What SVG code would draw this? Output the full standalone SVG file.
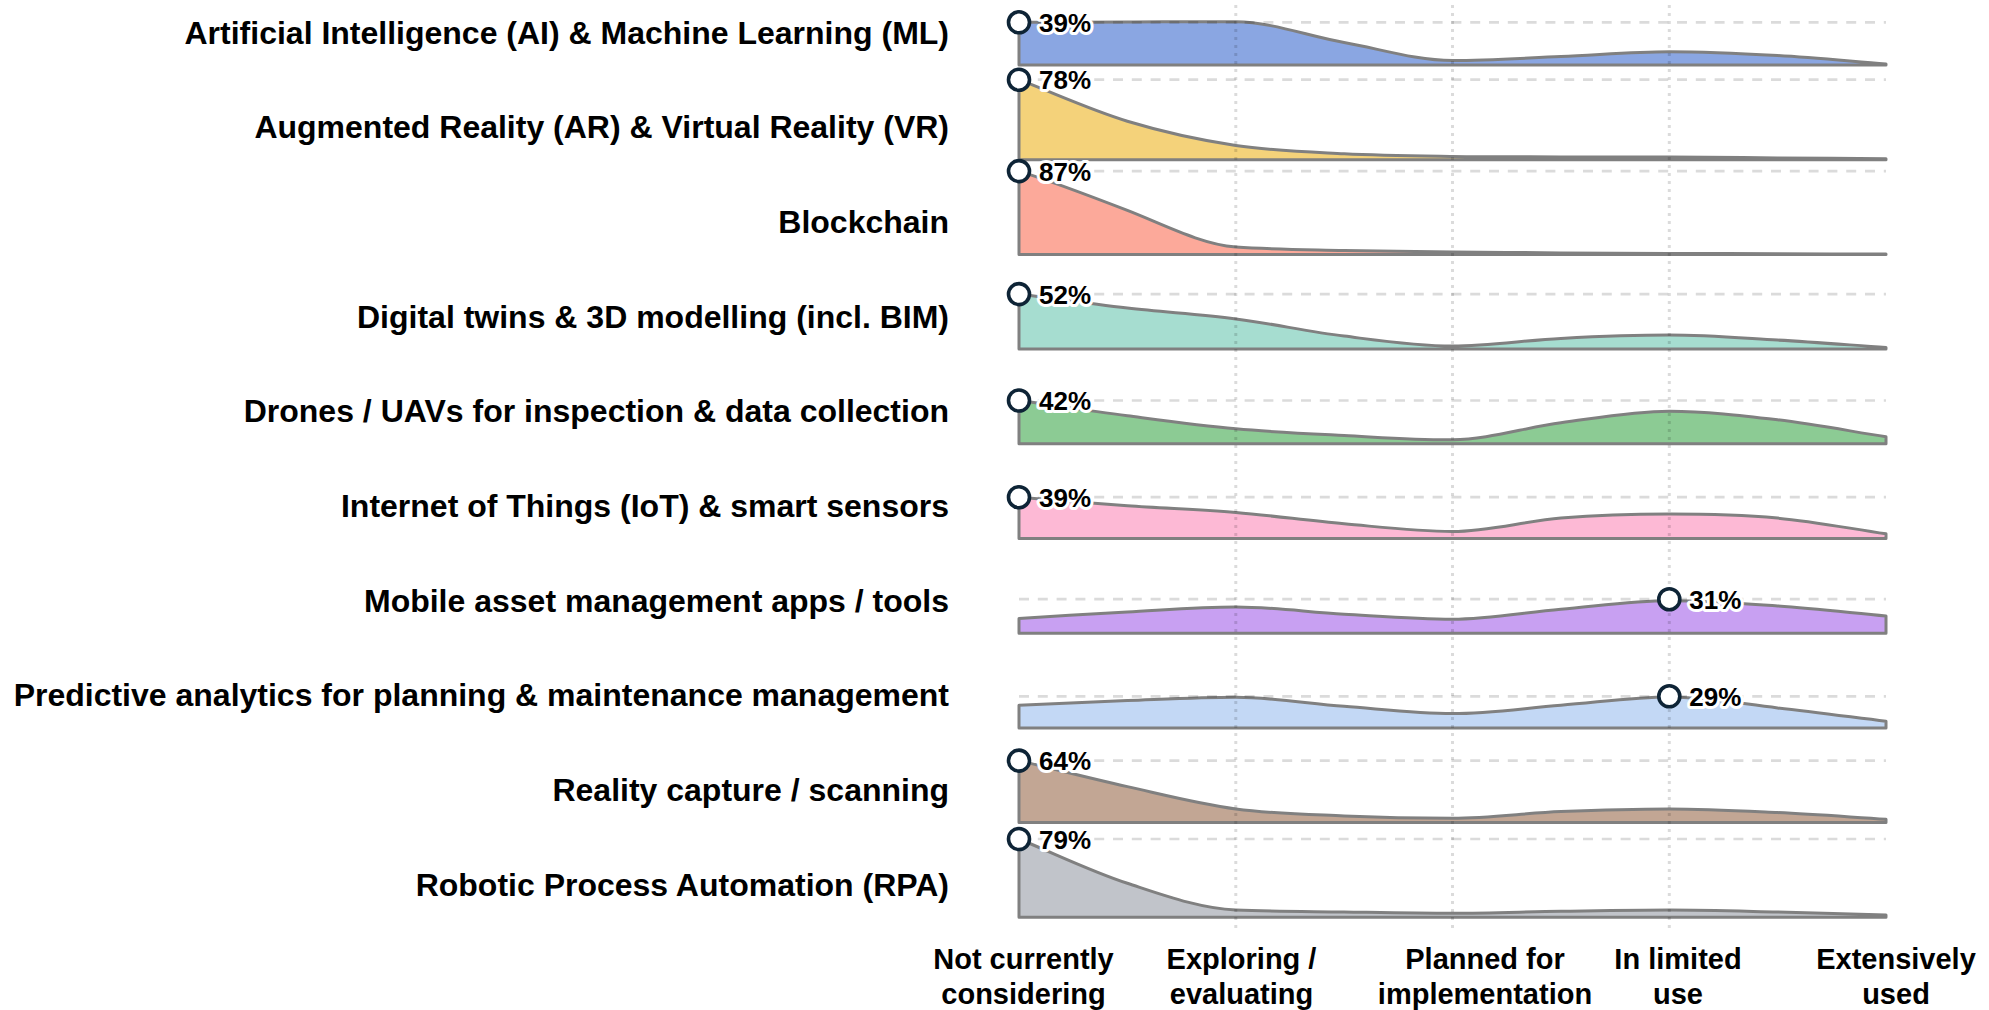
<svg xmlns="http://www.w3.org/2000/svg" width="1989" height="1010" viewBox="0 0 1989 1010">
<style>
text{font-family:"Liberation Sans",Arial,Helvetica,sans-serif;font-weight:700;fill:#000}
.lbl{font-size:32px;text-anchor:end}
.ax{font-size:29px;text-anchor:middle}
.pct{font-size:26px;stroke:#fff;stroke-width:6;stroke-linejoin:round;paint-order:stroke fill}
.ridge{stroke:#808080;stroke-width:3;stroke-linejoin:round}
.vgrid{stroke:#000;stroke-opacity:0.14;stroke-width:3;stroke-dasharray:3 5}
.hgrid{stroke:#000;stroke-opacity:0.14;stroke-width:2.7;stroke-dasharray:10 8.8}
.dot{fill:#fff;stroke:#0e2436;stroke-width:3.6}
</style>
<rect width="1989" height="1010" fill="#fff"/>

<g id="row-ai">
<text class="lbl" x="949" y="43.5">Artificial Intelligence (AI) &amp; Machine Learning (ML)</text>
<path class="ridge" fill="#8aa6e2" transform="translate(0,65)" d="M1019,0 L1019,-42.7 C1055.1,-42.8 1091.3,-42.92 1127.4,-43 C1163.5,-43.08 1199.7,-43.5 1235.8,-43.2 C1271.9,-42.9 1308,-28.95 1344.1,-22.5 C1380.2,-16.05 1416.4,-4.5 1452.5,-4.5 C1488.6,-4.5 1524.8,-7.03 1560.9,-8.5 C1597,-9.97 1633.2,-13.3 1669.3,-13.3 C1705.4,-13.3 1741.5,-11.55 1777.6,-9.5 C1813.7,-7.45 1849.9,-3.83 1886,-1 L1886,0 Z"/>
</g>
<g id="row-arvr">
<text class="lbl" x="949" y="138.2">Augmented Reality (AR) &amp; Virtual Reality (VR)</text>
<path class="ridge" fill="#f4d27a" transform="translate(0,159.7)" d="M1019,0 L1019,-80 C1055.1,-66.17 1091.3,-49.45 1127.4,-38.5 C1163.5,-27.55 1199.7,-19.72 1235.8,-14.3 C1271.9,-8.88 1308,-7.83 1344.1,-6 C1380.2,-4.17 1416.4,-3.83 1452.5,-3.3 C1488.6,-2.77 1524.8,-2.92 1560.9,-2.8 C1597,-2.68 1633.2,-2.77 1669.3,-2.6 C1705.4,-2.43 1741.5,-2.07 1777.6,-1.8 C1813.7,-1.53 1849.9,-1.27 1886,-1 L1886,0 Z"/>
</g>
<g id="row-blockchain">
<text class="lbl" x="949" y="232.9">Blockchain</text>
<path class="ridge" fill="#fca99a" transform="translate(0,254.4)" d="M1019,0 L1019,-83.3 C1055.1,-72 1091.3,-58 1127.4,-44 C1163.5,-30 1199.7,-10.5 1235.8,-7.3 C1271.9,-4.8 1308,-4.8 1344.1,-4 C1380.2,-3.2 1416.4,-2.92 1452.5,-2.5 C1488.6,-2.08 1524.8,-1.75 1560.9,-1.5 C1597,-1.25 1633.2,-1.13 1669.3,-1 C1705.4,-0.87 1741.5,-0.82 1777.6,-0.7 C1813.7,-0.58 1849.9,-0.43 1886,-0.3 L1886,0 Z"/>
</g>
<g id="row-digital-twins">
<text class="lbl" x="949" y="327.6">Digital twins &amp; 3D modelling (incl. BIM)</text>
<path class="ridge" fill="#a6ddd0" transform="translate(0,349.1)" d="M1019,0 L1019,-55 C1055.1,-50.33 1091.3,-45.13 1127.4,-41 C1163.5,-36.87 1199.7,-34.87 1235.8,-30.2 C1271.9,-25.53 1308,-17.53 1344.1,-13 C1380.2,-8.47 1416.4,-3 1452.5,-3 C1488.6,-3 1524.8,-8.87 1560.9,-10.7 C1597,-12.53 1633.2,-14 1669.3,-14 C1705.4,-14 1741.5,-11.05 1777.6,-9 C1813.7,-6.95 1849.9,-4.13 1886,-1.7 L1886,0 Z"/>
</g>
<g id="row-drones">
<text class="lbl" x="949" y="422.3">Drones / UAVs for inspection &amp; data collection</text>
<path class="ridge" fill="#8ccb94" transform="translate(0,443.8)" d="M1019,0 L1019,-43.3 C1055.1,-38.2 1091.3,-32.72 1127.4,-28 C1163.5,-23.28 1199.7,-18.28 1235.8,-15 C1271.9,-11.72 1308,-10.13 1344.1,-8.3 C1380.2,-6.47 1416.4,-3.7 1452.5,-4 C1488.6,-4.3 1524.8,-16.25 1560.9,-21 C1597,-25.75 1633.2,-32.5 1669.3,-32.5 C1705.4,-32.5 1741.5,-28.25 1777.6,-24 C1813.7,-19.75 1849.9,-12.67 1886,-7 L1886,0 Z"/>
</g>
<g id="row-iot">
<text class="lbl" x="949" y="517">Internet of Things (IoT) &amp; smart sensors</text>
<path class="ridge" fill="#fdb9d5" transform="translate(0,538.5)" d="M1019,0 L1019,-41.3 C1055.1,-38.43 1091.3,-35.25 1127.4,-32.7 C1163.5,-30.15 1199.7,-29 1235.8,-26 C1271.9,-23 1308,-17.87 1344.1,-14.7 C1380.2,-11.53 1416.4,-7 1452.5,-7 C1488.6,-7 1524.8,-17.5 1560.9,-20.4 C1597,-23.3 1633.2,-24.4 1669.3,-24.4 C1705.4,-24.4 1741.5,-23.68 1777.6,-20.4 C1813.7,-17.12 1849.9,-9.93 1886,-4.7 L1886,0 Z"/>
</g>
<g id="row-mobile">
<text class="lbl" x="949" y="611.7">Mobile asset management apps / tools</text>
<path class="ridge" fill="#c8a0f2" transform="translate(0,633.2)" d="M1019,0 L1019,-14.7 C1055.1,-16.9 1091.3,-19.37 1127.4,-21.3 C1163.5,-23.23 1199.7,-26.3 1235.8,-26.3 C1271.9,-26.3 1308,-21.05 1344.1,-19 C1380.2,-16.95 1416.4,-14 1452.5,-14 C1488.6,-14 1524.8,-20.92 1560.9,-24 C1597,-27.08 1633.2,-32.5 1669.3,-32.5 C1705.4,-32.5 1741.5,-29.83 1777.6,-27.3 C1813.7,-24.77 1849.9,-20.63 1886,-17.3 L1886,0 Z"/>
</g>
<g id="row-predictive">
<text class="lbl" x="949" y="706.4">Predictive analytics for planning &amp; maintenance management</text>
<path class="ridge" fill="#c3d8f5" transform="translate(0,727.9)" d="M1019,0 L1019,-22.6 C1055.1,-24.17 1091.3,-25.97 1127.4,-27.3 C1163.5,-28.63 1199.7,-30.6 1235.8,-30.6 C1271.9,-30.6 1308,-24.32 1344.1,-21.6 C1380.2,-18.88 1416.4,-14.3 1452.5,-14.3 C1488.6,-14.3 1524.8,-19.82 1560.9,-22.6 C1597,-25.38 1633.2,-31 1669.3,-31 C1705.4,-31 1741.5,-24.07 1777.6,-20 C1813.7,-15.93 1849.9,-11.07 1886,-6.6 L1886,0 Z"/>
</g>
<g id="row-reality-capture">
<text class="lbl" x="949" y="801.1">Reality capture / scanning</text>
<path class="ridge" fill="#c2a694" transform="translate(0,822.6)" d="M1019,0 L1019,-62 C1055.1,-53.33 1091.3,-44.05 1127.4,-36 C1163.5,-27.95 1199.7,-18.58 1235.8,-13.7 C1271.9,-8.82 1308,-8.25 1344.1,-6.7 C1380.2,-5.15 1416.4,-4.4 1452.5,-4.4 C1488.6,-4.4 1524.8,-9.45 1560.9,-11 C1597,-12.55 1633.2,-13.7 1669.3,-13.7 C1705.4,-13.7 1741.5,-11.72 1777.6,-10 C1813.7,-8.28 1849.9,-5.6 1886,-3.4 L1886,0 Z"/>
</g>
<g id="row-rpa">
<text class="lbl" x="949" y="895.8">Robotic Process Automation (RPA)</text>
<path class="ridge" fill="#c1c4ca" transform="translate(0,917.3)" d="M1019,0 L1019,-78.3 C1055.1,-63.53 1091.3,-45.83 1127.4,-34 C1163.5,-22.17 1199.7,-8.8 1235.8,-7.3 C1271.9,-5.8 1308,-5.85 1344.1,-5.3 C1380.2,-4.75 1416.4,-4 1452.5,-4 C1488.6,-4 1524.8,-5.45 1560.9,-6 C1597,-6.55 1633.2,-7.3 1669.3,-7.3 C1705.4,-7.3 1741.5,-6.13 1777.6,-5.3 C1813.7,-4.47 1849.9,-3.3 1886,-2.3 L1886,0 Z"/>
</g>

<g id="grid">
<line class="vgrid" x1="1235.8" y1="5" x2="1235.8" y2="932"/>
<line class="vgrid" x1="1452.5" y1="5" x2="1452.5" y2="932"/>
<line class="vgrid" x1="1669.3" y1="5" x2="1669.3" y2="932"/>
<line class="hgrid" x1="1019" y1="22.3" x2="1886" y2="22.3"/>
<line class="hgrid" x1="1019" y1="79.7" x2="1886" y2="79.7"/>
<line class="hgrid" x1="1019" y1="171.1" x2="1886" y2="171.1"/>
<line class="hgrid" x1="1019" y1="294.1" x2="1886" y2="294.1"/>
<line class="hgrid" x1="1019" y1="400.5" x2="1886" y2="400.5"/>
<line class="hgrid" x1="1019" y1="497.2" x2="1886" y2="497.2"/>
<line class="hgrid" x1="1019" y1="599.2" x2="1886" y2="599.2"/>
<line class="hgrid" x1="1019" y1="696.3" x2="1886" y2="696.3"/>
<line class="hgrid" x1="1019" y1="760.6" x2="1886" y2="760.6"/>
<line class="hgrid" x1="1019" y1="839" x2="1886" y2="839"/>
</g>

<g id="marker-ai"><circle class="dot" cx="1019" cy="22.3" r="10.5"/><text class="pct" x="1039" y="32">39%</text></g>
<g id="marker-arvr"><circle class="dot" cx="1019" cy="79.7" r="10.5"/><text class="pct" x="1039" y="89.4">78%</text></g>
<g id="marker-blockchain"><circle class="dot" cx="1019" cy="171.1" r="10.5"/><text class="pct" x="1039" y="180.8">87%</text></g>
<g id="marker-digital-twins"><circle class="dot" cx="1019" cy="294.1" r="10.5"/><text class="pct" x="1039" y="303.8">52%</text></g>
<g id="marker-drones"><circle class="dot" cx="1019" cy="400.5" r="10.5"/><text class="pct" x="1039" y="410.2">42%</text></g>
<g id="marker-iot"><circle class="dot" cx="1019" cy="497.2" r="10.5"/><text class="pct" x="1039" y="506.9">39%</text></g>
<g id="marker-mobile"><circle class="dot" cx="1669.3" cy="599.2" r="10.5"/><text class="pct" x="1689.3" y="608.9">31%</text></g>
<g id="marker-predictive"><circle class="dot" cx="1669.3" cy="696.3" r="10.5"/><text class="pct" x="1689.3" y="706">29%</text></g>
<g id="marker-reality-capture"><circle class="dot" cx="1019" cy="760.6" r="10.5"/><text class="pct" x="1039" y="770.3">64%</text></g>
<g id="marker-rpa"><circle class="dot" cx="1019" cy="839" r="10.5"/><text class="pct" x="1039" y="848.7">79%</text></g>

<g id="axis-labels">
<text class="ax" x="1023.5" y="968.5">Not currently</text>
<text class="ax" x="1023.5" y="1003.5">considering</text>
<text class="ax" x="1241.5" y="968.5">Exploring /</text>
<text class="ax" x="1241.5" y="1003.5">evaluating</text>
<text class="ax" x="1485" y="968.5">Planned for</text>
<text class="ax" x="1485" y="1003.5">implementation</text>
<text class="ax" x="1678" y="968.5">In limited</text>
<text class="ax" x="1678" y="1003.5">use</text>
<text class="ax" x="1896" y="968.5">Extensively</text>
<text class="ax" x="1896" y="1003.5">used</text>
</g>
</svg>
